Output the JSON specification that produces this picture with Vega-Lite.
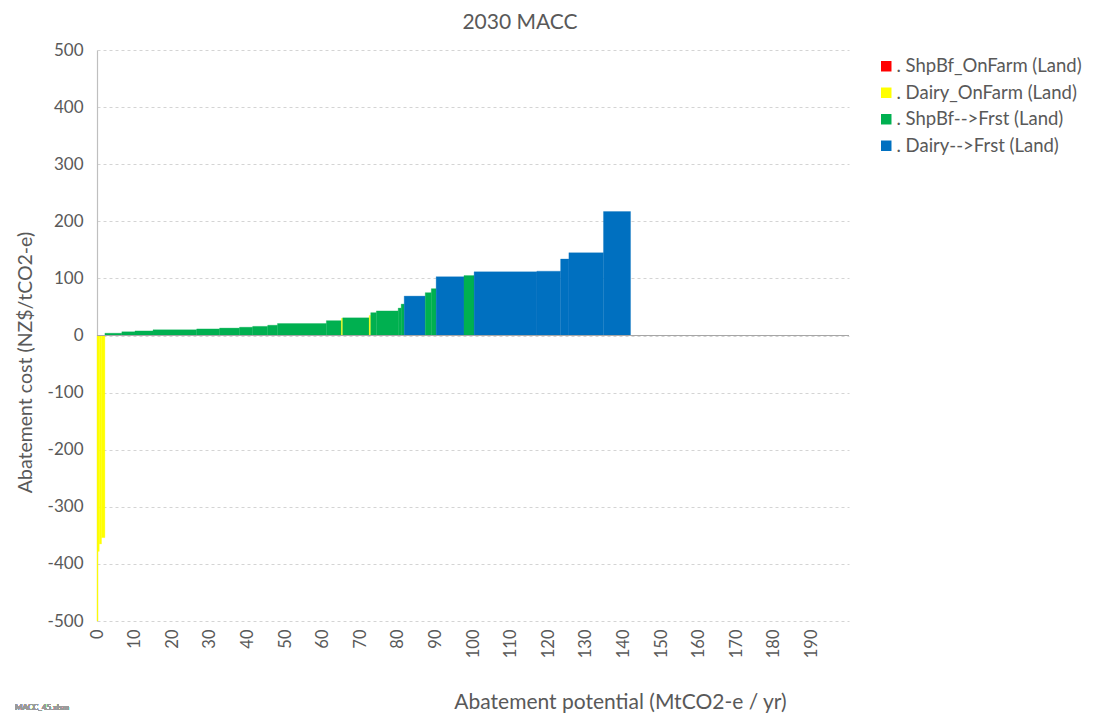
{
  "$schema": "https://vega.github.io/schema/vega-lite/v6.json",
  "autosize": "none",
  "width": 752,
  "height": 571,
  "padding": {"left": 97, "top": 50, "right": 244, "bottom": 92},
  "background": "white",
  "config": {
    "font": "Lato",
    "view": {"stroke": null},
    "axis": {"labelColor": "#595959", "titleColor": "#595959", "labelFont": "Lato", "titleFont": "Lato", "titleFontWeight": "normal"}
  },
  "title": {"text": "2030 MACC", "fontSize": 21, "fontWeight": "normal", "color": "#595959", "font": "Lato", "offset": 8, "dx": 47},
  "data": {"values": [
    {"x0": 0, "x1": 0.25, "cost": -500, "cat": ". Dairy_OnFarm (Land)"},
    {"x0": 0.25, "x1": 0.6, "cost": -378, "cat": ". Dairy_OnFarm (Land)"},
    {"x0": 0.6, "x1": 1.2, "cost": -365, "cat": ". Dairy_OnFarm (Land)"},
    {"x0": 1.2, "x1": 2.1, "cost": -354, "cat": ". Dairy_OnFarm (Land)"},
    {"x0": 2.1, "x1": 6.6, "cost": 4, "cat": ". ShpBf-->Frst (Land)"},
    {"x0": 6.6, "x1": 10.1, "cost": 6.5, "cat": ". ShpBf-->Frst (Land)"},
    {"x0": 10.1, "x1": 14.9, "cost": 8, "cat": ". ShpBf-->Frst (Land)"},
    {"x0": 14.9, "x1": 26.5, "cost": 10, "cat": ". ShpBf-->Frst (Land)"},
    {"x0": 26.5, "x1": 32.6, "cost": 11.5, "cat": ". ShpBf-->Frst (Land)"},
    {"x0": 32.6, "x1": 37.9, "cost": 13, "cat": ". ShpBf-->Frst (Land)"},
    {"x0": 37.9, "x1": 41.4, "cost": 14.5, "cat": ". ShpBf-->Frst (Land)"},
    {"x0": 41.4, "x1": 45.4, "cost": 16, "cat": ". ShpBf-->Frst (Land)"},
    {"x0": 45.4, "x1": 48.0, "cost": 18, "cat": ". ShpBf-->Frst (Land)"},
    {"x0": 48.0, "x1": 61.0, "cost": 21, "cat": ". ShpBf-->Frst (Land)"},
    {"x0": 61.0, "x1": 65.0, "cost": 26, "cat": ". ShpBf-->Frst (Land)"},
    {"x0": 65.0, "x1": 65.35, "cost": 30, "cat": ". Dairy_OnFarm (Land)"},
    {"x0": 65.35, "x1": 72.4, "cost": 31, "cat": ". ShpBf-->Frst (Land)"},
    {"x0": 72.4, "x1": 72.8, "cost": 35, "cat": ". Dairy_OnFarm (Land)"},
    {"x0": 72.8, "x1": 74.3, "cost": 40, "cat": ". ShpBf-->Frst (Land)"},
    {"x0": 74.3, "x1": 80.1, "cost": 43, "cat": ". ShpBf-->Frst (Land)"},
    {"x0": 80.1, "x1": 80.9, "cost": 48, "cat": ". ShpBf-->Frst (Land)"},
    {"x0": 80.9, "x1": 81.7, "cost": 55, "cat": ". ShpBf-->Frst (Land)"},
    {"x0": 81.7, "x1": 87.3, "cost": 69, "cat": ". Dairy-->Frst (Land)"},
    {"x0": 87.3, "x1": 88.9, "cost": 75, "cat": ". ShpBf-->Frst (Land)"},
    {"x0": 88.9, "x1": 90.2, "cost": 82, "cat": ". ShpBf-->Frst (Land)"},
    {"x0": 90.2, "x1": 97.6, "cost": 103, "cat": ". Dairy-->Frst (Land)"},
    {"x0": 97.6, "x1": 100.3, "cost": 105, "cat": ". ShpBf-->Frst (Land)"},
    {"x0": 100.3, "x1": 117.0, "cost": 111.5, "cat": ". Dairy-->Frst (Land)"},
    {"x0": 117.0, "x1": 123.3, "cost": 112.7, "cat": ". Dairy-->Frst (Land)"},
    {"x0": 123.3, "x1": 125.5, "cost": 134, "cat": ". Dairy-->Frst (Land)"},
    {"x0": 125.5, "x1": 134.7, "cost": 145, "cat": ". Dairy-->Frst (Land)"},
    {"x0": 134.7, "x1": 141.9, "cost": 217, "cat": ". Dairy-->Frst (Land)"}
  ]},
  "layer": [
    {
      "mark": {"type": "rect", "strokeWidth": 0.3},
      "encoding": {
        "x": {"field": "x0", "type": "quantitative",
              "scale": {"domain": [0, 200], "nice": false, "zero": false},
              "axis": {"values": [0,10,20,30,40,50,60,70,80,90,100,110,120,130,140,150,160,170,180,190],
                       "labelAngle": -90, "labelFontSize": 16.5, "domain": false, "ticks": false, "grid": false,
                       "labelPadding": 8, "labelFlush": false,
                       "title": "Abatement potential (MtCO2-e / yr)", "titleFontSize": 21, "titlePadding": 34, "titleX": 523}},
        "x2": {"field": "x1"},
        "y": {"field": "cost", "type": "quantitative",
              "scale": {"domain": [-500, 500], "nice": false},
              "axis": {"values": [-500,-400,-300,-200,-100,0,100,200,300,400,500],
                       "labelExpr": "'' + datum.value",
                       "labelFontSize": 17, "labelPadding": 14, "ticks": false,
                       "domainColor": "#bfbfbf", "domainWidth": 1.2,
                       "gridColor": "#d4d4d4", "gridDash": [3, 3],
                       "title": "Abatement cost (NZ$/tCO2-e)", "titleFontSize": 19.5, "titlePadding": 12, "titleY": 312}},
        "y2": {"datum": 0},
        "color": {"field": "cat", "type": "nominal",
                  "scale": {"domain": [". ShpBf_OnFarm (Land)", ". Dairy_OnFarm (Land)", ". ShpBf-->Frst (Land)", ". Dairy-->Frst (Land)"],
                            "range": ["#FF0000", "#FFFF00", "#00B050", "#0070C0"]},
                  "legend": {"title": null, "orient": "none", "legendX": 780, "legendY": 7,
                             "symbolType": "square", "symbolSize": 110, "symbolStrokeWidth": 0,
                             "labelFontSize": 18.5, "labelColor": "#595959", "labelFont": "Lato", "labelLimit": 400,
                             "rowPadding": 7.5, "labelOffset": 1}},
        "stroke": {"field": "cat", "type": "nominal", "legend": null,
                   "scale": {"domain": [". ShpBf_OnFarm (Land)", ". Dairy_OnFarm (Land)", ". ShpBf-->Frst (Land)", ". Dairy-->Frst (Land)"],
                             "range": ["#FF0000", "#FFFF00", "#00B050", "#0070C0"]}}
      }
    },
    {
      "mark": {"type": "rule", "color": "#a6a6a6", "strokeWidth": 1},
      "encoding": {"y": {"datum": 0}}
    },
    {
      "mark": {"type": "text", "text": "MACC_45.xlsm", "fontSize": 8, "color": "#9a9a9a", "align": "left", "baseline": "middle", "dx": -458, "dy": 372},
      "encoding": {}
    }
  ]
}
